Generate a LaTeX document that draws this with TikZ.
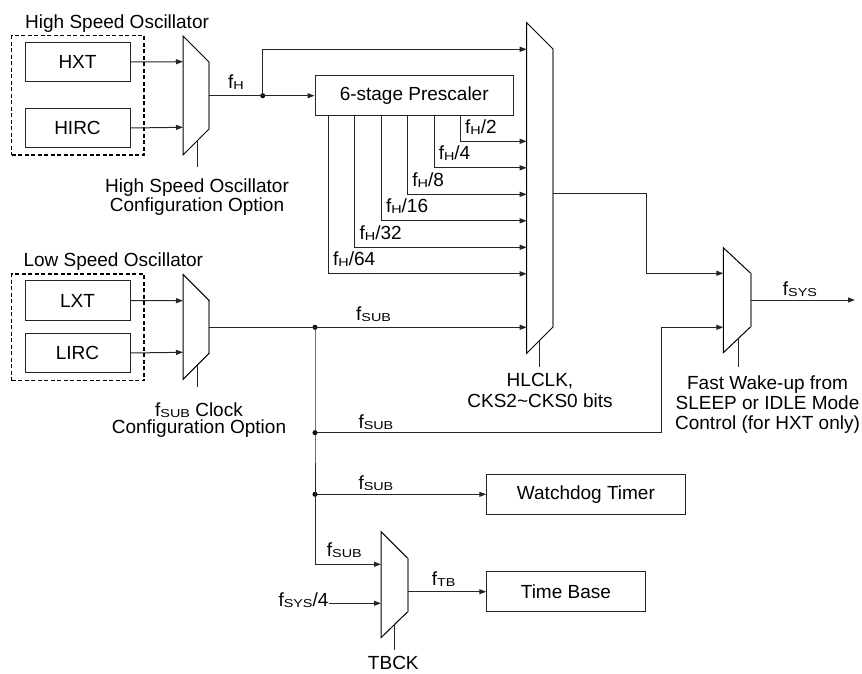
\documentclass[tikz,border=0pt]{standalone}
\usepackage{fontspec}
\usepackage{graphicx}
\setmainfont{Liberation Sans}
\usetikzlibrary{arrows.meta}
\newcommand\sbs[1]{\raisebox{-1pt}{\scalebox{1.25}[1]{\fontsize{11.5}{11.5}\selectfont #1}}}
\begin{document}
\begin{tikzpicture}[x=1pt,y=-1pt, font=\fontsize{19}{20}\selectfont,
  line/.style={draw=black!85, line width=1pt},
  arr/.style={line, -{Triangle[length=7pt,width=5pt]}},
  box/.style={draw=black!85, line width=1pt, minimum height=39.5pt, inner sep=0pt},
  dashbox/.style={draw=black, line width=1.4pt, dash pattern=on 4pt off 2.5pt, inner sep=0pt},
  muxl/.style={draw=black, line width=1pt, fill=white},
  muxr/.style={draw=black!50, line width=1.8pt},
  ctl/.style={draw=black!85, line width=1pt},
  dot/.style={circle, fill=black, inner sep=0pt, minimum size=5pt},
  lbl/.style={inner sep=0pt, anchor=base west},
  note/.style={inner sep=0pt, anchor=north, align=center},
]
\useasboundingbox (0,0) rectangle (862,673);

% ---------- oscillator groups ----------
\node[dashbox, minimum width=132.3pt, minimum height=119.3pt] (hso) at (77.85,95.35) {};
\node[dashbox, minimum width=132.3pt, minimum height=106.7pt] (lso) at (77.85,327.35) {};
\node[lbl] (hsot) at (25,28.3) {High Speed Oscillator};
\node[lbl] (lsot) at (23.3,266.7) {Low Speed Oscillator};

\node[box, minimum width=105pt] (hxt)  at (77.5,62)  {HXT};
\node[box, minimum width=105pt] (hirc) at (77.5,128) {HIRC};
\node[box, minimum width=105pt] (lxt)  at (77.5,300.5) {LXT};
\node[box, minimum width=105pt] (lirc) at (77.5,353) {LIRC};

% ---------- other blocks ----------
\node[box, minimum width=198.3pt] (presc) at (414.2,95.7) {6-stage Prescaler};
\node[box, minimum width=198.3pt] (wdt)   at (585.9,494.3) {Watchdog Timer};
\node[box, minimum width=158.3pt] (tb)    at (565.9,591.7) {Time Base};

% ---------- multiplexers ----------
% HS mux
\path[muxl] (183,36) -- (209.3,62.3) -- (209.3,128.7) -- (183,155) -- cycle;
\draw[muxr] (209.3,62.3) -- (209.3,128.7);
\coordinate (m1a) at (183,61.7);
\coordinate (m1b) at (183,127.3);
\coordinate (m1o) at (209.3,95.7);
\coordinate (m1c) at (197.7,140.3);
\coordinate (m1e) at (197.7,166.7);
% LS mux
\path[muxl] (183,274.3) -- (209.3,300.6) -- (209.3,353) -- (183,379.3) -- cycle;
\draw[muxr] (209.3,300.6) -- (209.3,353);
\coordinate (m2a) at (183,300.7);
\coordinate (m2b) at (183,352.3);
\coordinate (m2o) at (209.3,327.3);
\coordinate (m2c) at (197.7,364.6);
\coordinate (m2e) at (197.7,386.7);
% big mux
\path[muxl] (526.7,22.7) -- (553.3,49.3) -- (553.3,326.7) -- (526.7,353.3) -- cycle;
\draw[muxr] (553.3,49.3) -- (553.3,326.7);
\coordinate (bm0) at (526.7,49.3);
\coordinate (bm1) at (526.7,141.3);
\coordinate (bm2) at (526.7,167.8);
\coordinate (bm3) at (526.7,194.3);
\coordinate (bm4) at (526.7,220.8);
\coordinate (bm5) at (526.7,247.3);
\coordinate (bm6) at (526.7,273.8);
\coordinate (bm7) at (526.7,327.3);
\coordinate (bmo) at (553.3,193.3);
\coordinate (bmc) at (539.3,340.7);
\coordinate (bme) at (539.3,367.3);
% final mux
\path[muxl] (723.3,247.7) -- (750.7,273.3) -- (750.7,326.7) -- (723.3,352.7) -- cycle;
\draw[muxr] (750.7,273.3) -- (750.7,326.7);
\coordinate (fm1) at (723.3,273.3);
\coordinate (fm2) at (723.3,327.3);
\coordinate (fmo) at (750.7,300);
\coordinate (fmc) at (738.3,338.5);
\coordinate (fme) at (738.3,366.7);
\coordinate (fout) at (855,300);
% time base mux
\path[muxl] (381,531.7) -- (407.7,558.3) -- (407.7,611.7) -- (381,637.7) -- cycle;
\draw[muxr] (407.7,558.3) -- (407.7,611.7);
\coordinate (tm1) at (381,564.3);
\coordinate (tm2) at (381,603.3);
\coordinate (tmo) at (407.7,591.7);
\coordinate (tmc) at (394.3,624.4);
\coordinate (tme) at (394.3,650);

% control lines
\draw[ctl] (m1c) -- (m1e);
\draw[ctl] (m2c) -- (m2e);
\draw[ctl] (bmc) -- (bme);
\draw[ctl] (fmc) -- (fme);
\draw[ctl] (tmc) -- (tme);

% ---------- junctions ----------
\node[dot] (jH)  at (262.7,95.7) {};
\node[dot] (jS1) at (315,327.3) {};
\node[dot] (jS2) at (315,432.7) {};
\node[dot] (jS3) at (315,494.3) {};
\coordinate (jS4) at (315,564.3);
\coordinate (bnd) at (646,193.3);
\coordinate (bnd2) at (661.5,432.7);

% ---------- connectors ----------
\draw[arr] (hxt.east) -- (m1a);
\draw[arr] (hirc.east) -- (m1b);
\draw[arr] (lxt.east) -- (m2a);
\draw[arr] (lirc.east) -- (m2b);

\draw[line] (m1o) -- (jH.center);
\draw[arr] (jH.center) -- (presc.west);
\draw[arr] (jH.center) |- (bm0);

\draw[arr] ([xshift=146pt]presc.south west) |- (bm1);
\draw[arr] ([xshift=119.6pt]presc.south west) |- (bm2);
\draw[arr] ([xshift=93.2pt]presc.south west) |- (bm3);
\draw[arr] ([xshift=66.8pt]presc.south west) |- (bm4);
\draw[arr] ([xshift=40.4pt]presc.south west) |- (bm5);
\draw[arr] ([xshift=14pt]presc.south west) |- (bm6);

\draw[line] (m2o) -- (jS1.center);
\draw[arr] (jS1.center) -- (bm7);
\draw[line] (jS1.center) -- (jS2.center) -- (jS3.center);
\draw[arr] (jS2.center) -- (bnd2) |- (fm2);
\draw[arr] (jS3.center) -- (wdt.west);
\draw[arr] (jS3.center) |- (tm1);

\draw[arr] (bmo) -- (bnd) |- (fm1);
\draw[arr] (fmo) -- (fout);

\node[lbl] (fs4) at (278.3,606.7) {f\sbs{SYS}/4};
\draw[arr] (fs4.east |- tm2) -- (tm2);
\draw[arr] (tmo) -- (tb.west);

% ---------- signal labels ----------
\node[lbl] (lfh) at (228,88.3) {f\sbs{H}};
\node[lbl] (l2)  at (465,133.3) {f\sbs{H}/2};
\node[lbl] (l4)  at (438.6,159.8) {f\sbs{H}/4};
\node[lbl] (l8)  at (412.2,186.3) {f\sbs{H}/8};
\node[lbl] (l16) at (385.8,212.8) {f\sbs{H}/16};
\node[lbl] (l32) at (359.4,239.3) {f\sbs{H}/32};
\node[lbl] (l64) at (333,265.8) {f\sbs{H}/64};
\node[lbl] (ls1) at (356,320) {f\sbs{SUB}};
\node[lbl] (ls2) at (358.3,428.3) {f\sbs{SUB}};
\node[lbl] (ls3) at (358.3,489.3) {f\sbs{SUB}};
\node[lbl] (ls4) at (326.7,556.7) {f\sbs{SUB}};
\node[lbl] (ltb) at (431.7,585) {f\sbs{TB}};
\node[lbl] (lsys) at (782.7,295) {f\sbs{SYS}};

% ---------- notes ----------
\node[note, font=\fontsize{19}{17.5}\selectfont] (n1) at (197,179) {High Speed Oscillator\\Configuration Option};
\node[note, font=\fontsize{19}{17.5}\selectfont] (n2) at (199,402.5) {f\sbs{SUB} Clock\\Configuration Option};
\node[note, font=\fontsize{19}{20.7}\selectfont] (n3) at (540,373.3) {HLCLK,\\CKS2\textasciitilde CKS0 bits};
\node[note, font=\fontsize{19}{20}\selectfont] (n4) at (767.5,376) {Fast Wake-up from\\SLEEP or IDLE Mode\\Control (for HXT only)};
\node[inner sep=0pt, anchor=base] (n5) at (393.3,669.3) {TBCK};
\end{tikzpicture}
\end{document}
